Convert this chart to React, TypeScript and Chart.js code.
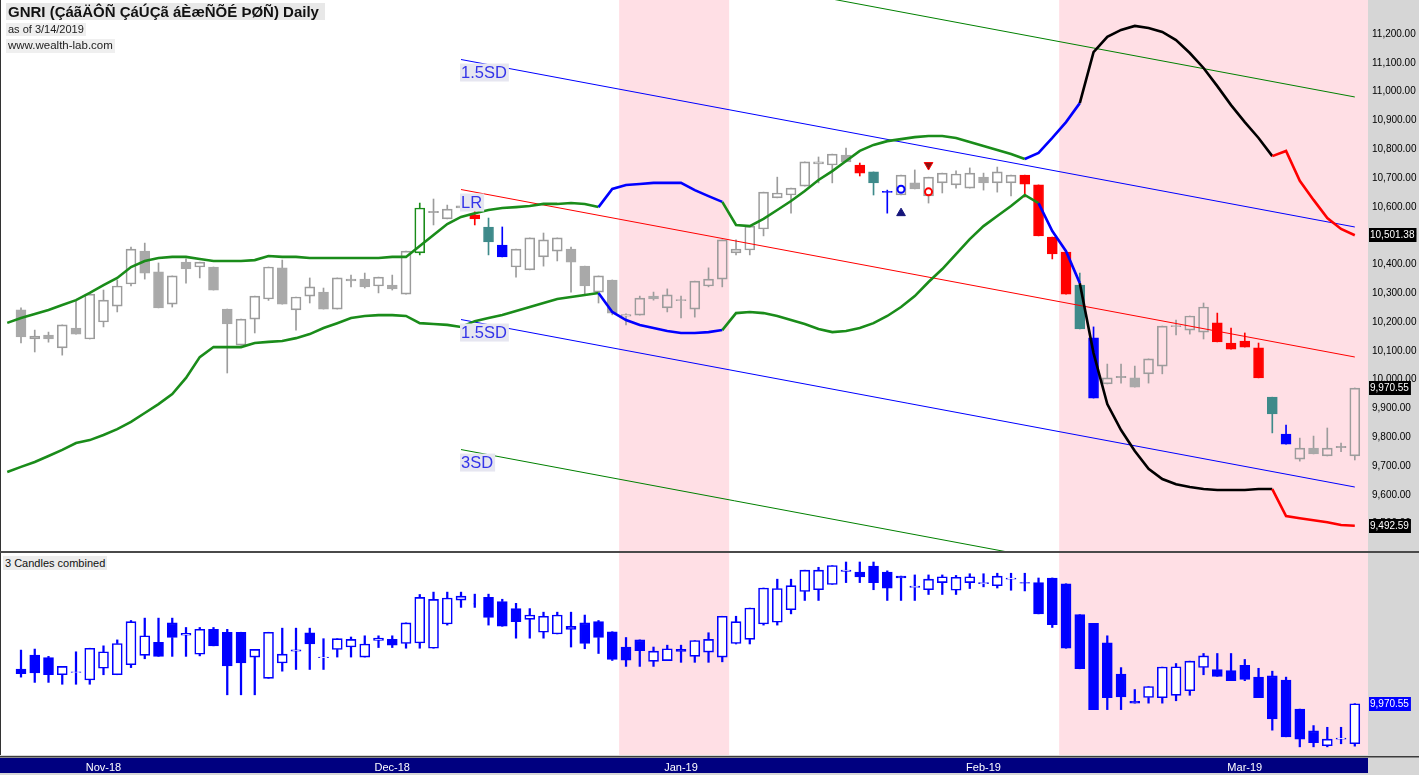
import React, { useEffect, useRef } from 'react';
import { Chart, registerables } from 'chart.js';

Chart.register(...registerables);

// ---------------- DATA ----------------
const chartTitle = 'GNRI (ÇáãÄÔÑ ÇáÚÇã áÈæÑÕÉ ÞØÑ) Daily';
const asOfText = 'as of 3/14/2019';
const siteText = 'www.wealth-lab.com';
const lowerPaneTitle = '3 Candles combined';

// daily OHLC, one entry per bar (bar 0 .. 97)
const opens = [10242, 10141, 10155, 10110, 10179, 10141, 10200, 10255, 10332, 10446,
  10374, 10262, 10408, 10391, 10391, 10245, 10120, 10210, 10280, 10388,
  10242, 10290, 10304, 10245, 10343, 10349, 10325, 10328, 10297, 10440,
  10580, 10558, 10596, 10572, 10530, 10467, 10391, 10381, 10426, 10446,
  10453, 10394, 10304, 10346, 10220, 10224, 10290, 10249, 10274, 10245,
  10325, 10349, 10440, 10450, 10523, 10631, 10641, 10672, 10749, 10745,
  10780, 10745, 10721, 10654, 10641, 10683, 10638, 10683, 10676, 10665,
  10703, 10683, 10683, 10710, 10676, 10495, 10443, 10328, 10145, 9985,
  10007, 10006, 10020, 10047, 10184, 10172, 10165, 10197, 10127, 10134,
  10110, 9939, 9811, 9724, 9762, 9735, 9764, 9735];
const highs = [10249, 10172, 10165, 10190, 10276, 10297, 10311, 10346, 10460, 10474,
  10405, 10360, 10419, 10408, 10391, 10245, 10210, 10290, 10391, 10415,
  10287, 10353, 10318, 10353, 10363, 10370, 10356, 10363, 10446, 10613,
  10627, 10606, 10615, 10585, 10561, 10530, 10453, 10492, 10509, 10492,
  10460, 10394, 10360, 10346, 10228, 10290, 10304, 10315, 10290, 10342,
  10388, 10485, 10485, 10533, 10651, 10703, 10665, 10756, 10773, 10783,
  10804, 10752, 10721, 10658, 10710, 10728, 10703, 10717, 10725, 10735,
  10717, 10738, 10710, 10710, 10676, 10495, 10443, 10370, 10183, 10054,
  10054, 10047, 10072, 10186, 10207, 10221, 10266, 10231, 10179, 10162,
  10127, 9939, 9842, 9797, 9804, 9832, 9780, 9971];
const lows = [10127, 10096, 10130, 10085, 10158, 10141, 10183, 10235, 10325, 10349,
  10249, 10252, 10335, 10353, 10311, 10023, 10120, 10162, 10275, 10262,
  10172, 10266, 10245, 10245, 10322, 10318, 10301, 10311, 10297, 10433,
  10537, 10558, 10590, 10537, 10433, 10426, 10356, 10381, 10394, 10412,
  10304, 10294, 10266, 10225, 10190, 10224, 10276, 10235, 10214, 10217,
  10322, 10322, 10433, 10433, 10499, 10631, 10578, 10672, 10683, 10683,
  10756, 10707, 10641, 10578, 10641, 10662, 10613, 10648, 10665, 10665,
  10658, 10651, 10638, 10634, 10499, 10419, 10297, 10176, 9936, 9985,
  9988, 9974, 9988, 10020, 10155, 10158, 10141, 10131, 10106, 10113,
  10006, 9815, 9776, 9717, 9742, 9735, 9750, 9721];
const closes = [10148, 10151, 10141, 10190, 10158, 10297, 10276, 10325, 10453, 10370,
  10249, 10360, 10384, 10408, 10311, 10193, 10210, 10290, 10391, 10262,
  10287, 10322, 10245, 10353, 10349, 10322, 10356, 10315, 10446, 10596,
  10584, 10592, 10603, 10558, 10478, 10426, 10453, 10492, 10485, 10492,
  10408, 10325, 10360, 10231, 10226, 10283, 10280, 10294, 10278, 10342,
  10349, 10485, 10453, 10533, 10651, 10648, 10665, 10756, 10756, 10783,
  10756, 10717, 10683, 10650, 10710, 10662, 10703, 10717, 10714, 10717,
  10683, 10721, 10710, 10679, 10499, 10436, 10297, 10176, 9936, 10006,
  10011, 9974, 10072, 10186, 10188, 10221, 10252, 10131, 10106, 10113,
  10006, 9881, 9776, 9762, 9742, 9762, 9768, 9970.55];

// "3 Candles combined" pane, one entry per bar
const combOpens = [10175, 10257, 10242, 10141, 10155, 10110, 10179, 10141, 10200, 10255,
  10332, 10446, 10374, 10262, 10408, 10391, 10391, 10245, 10120, 10210,
  10280, 10388, 10242, 10290, 10304, 10245, 10343, 10349, 10325, 10328,
  10297, 10440, 10580, 10558, 10596, 10572, 10530, 10467, 10391, 10381,
  10426, 10446, 10453, 10394, 10304, 10346, 10220, 10224, 10290, 10249,
  10274, 10245, 10325, 10349, 10440, 10450, 10523, 10631, 10641, 10672,
  10749, 10745, 10780, 10745, 10721, 10654, 10641, 10683, 10638, 10683,
  10676, 10665, 10703, 10683, 10683, 10710, 10676, 10495, 10443, 10328,
  10145, 9985, 10007, 10006, 10020, 10047, 10184, 10172, 10165, 10197,
  10127, 10134, 10110, 9939, 9811, 9724, 9762, 9735];
const combHighs = [10286, 10292, 10249, 10190, 10276, 10297, 10311, 10346, 10460, 10474,
  10474, 10474, 10419, 10419, 10419, 10408, 10391, 10290, 10391, 10415,
  10415, 10415, 10353, 10353, 10363, 10370, 10370, 10370, 10446, 10613,
  10627, 10627, 10627, 10615, 10615, 10585, 10561, 10530, 10509, 10509,
  10509, 10492, 10460, 10394, 10360, 10346, 10304, 10315, 10315, 10342,
  10388, 10485, 10485, 10533, 10651, 10703, 10703, 10756, 10773, 10783,
  10804, 10804, 10804, 10752, 10721, 10728, 10728, 10728, 10725, 10735,
  10735, 10738, 10738, 10738, 10710, 10710, 10676, 10495, 10443, 10370,
  10183, 10054, 10072, 10186, 10207, 10221, 10266, 10266, 10266, 10231,
  10179, 10162, 10127, 9939, 9842, 9832, 9832, 9971];
const combLows = [10127, 10096, 10096, 10085, 10085, 10085, 10141, 10141, 10183, 10235,
  10249, 10249, 10249, 10252, 10311, 10023, 10023, 10023, 10120, 10162,
  10172, 10172, 10172, 10245, 10245, 10245, 10301, 10301, 10297, 10297,
  10297, 10433, 10537, 10537, 10433, 10426, 10356, 10356, 10356, 10381,
  10304, 10294, 10266, 10225, 10190, 10190, 10190, 10224, 10214, 10214,
  10214, 10217, 10322, 10322, 10433, 10433, 10499, 10578, 10578, 10672,
  10683, 10683, 10641, 10578, 10578, 10578, 10613, 10613, 10613, 10648,
  10658, 10651, 10638, 10634, 10499, 10419, 10297, 10176, 9936, 9936,
  9936, 9974, 9974, 9974, 9988, 10020, 10141, 10131, 10106, 10106,
  10006, 9815, 9776, 9717, 9717, 9717, 9735, 9721];
const combCloses = [10148, 10151, 10141, 10190, 10158, 10297, 10276, 10325, 10453, 10370,
  10249, 10360, 10384, 10408, 10311, 10193, 10210, 10290, 10391, 10262,
  10287, 10322, 10245, 10353, 10349, 10322, 10356, 10315, 10446, 10596,
  10584, 10592, 10603, 10558, 10478, 10426, 10453, 10492, 10485, 10492,
  10408, 10325, 10360, 10231, 10226, 10283, 10280, 10294, 10278, 10342,
  10349, 10485, 10453, 10533, 10651, 10648, 10665, 10756, 10756, 10783,
  10756, 10717, 10683, 10650, 10710, 10662, 10703, 10717, 10714, 10717,
  10683, 10721, 10710, 10679, 10499, 10436, 10297, 10176, 9936, 10006,
  10011, 9974, 10072, 10186, 10188, 10221, 10252, 10131, 10106, 10113,
  10006, 9881, 9776, 9762, 9742, 9762, 9768, 9970.55];

// envelope bands, first value belongs to bar -1
const bandFirstBar = -1;
const bandUpper = [10197, 10214, 10228, 10242, 10259, 10276, 10301, 10328, 10353, 10391,
  10412, 10422, 10426, 10426, 10419, 10412, 10412, 10412, 10415, 10429,
  10426, 10426, 10422, 10422, 10422, 10422, 10422, 10422, 10426, 10426,
  10464, 10502, 10540, 10565, 10578, 10589, 10596, 10599, 10603, 10610,
  10610, 10613, 10610, 10599, 10662, 10676, 10679, 10683, 10683, 10683,
  10658, 10637, 10617, 10537, 10533, 10558, 10589, 10620, 10655, 10693,
  10724, 10759, 10794, 10815, 10828, 10835, 10842, 10846, 10846, 10839,
  10825, 10811, 10797, 10783, 10766, 10787, 10839, 10894, 10960, 11137,
  11190, 11214, 11228, 11221, 11207, 11179, 11134, 11082, 11019, 10953,
  10894, 10839, 10776, 10794, 10690, 10624, 10561, 10523, 10501.38];
const bandLower = [9679, 9697, 9714, 9735, 9756, 9780, 9790, 9808, 9828, 9853,
  9884, 9915, 9950, 10006, 10078, 10113, 10113, 10113, 10127, 10131,
  10134, 10144, 10158, 10179, 10196, 10214, 10221, 10224, 10224, 10221,
  10196, 10193, 10190, 10183, 10203, 10214, 10224, 10238, 10252, 10266,
  10280, 10287, 10294, 10301, 10235, 10207, 10190, 10179, 10169, 10162,
  10162, 10165, 10172, 10231, 10235, 10231, 10221, 10207, 10193, 10176,
  10165, 10169, 10179, 10196, 10221, 10252, 10290, 10339, 10384, 10436,
  10488, 10533, 10568, 10603, 10641, 10613, 10516, 10446, 10335, 10092,
  9915, 9825, 9752, 9690, 9655, 9637, 9627, 9620, 9617, 9617,
  9617, 9620, 9620, 9526, 9519, 9512, 9505, 9495, 9492.59];

// linear regression channel (bar 32 .. bar 97)
const channelStartBar = 32;
const channelEndBar = 97;
const channelNames = ['3SD', '1.5SD', 'LR', '1.5SD', '3SD'];
const channelStartValues = [11562.8, 11111.4, 10660.0, 10208.6, 9757.2];
const channelEndValues = [10981.3, 10529.9, 10078.5, 9627.1, 9175.7];

// signal markers
const buyArrowBars = [64];
const buyArrowValues = [10578];
const sellArrowBars = [66];
const sellArrowValues = [10745];
const blueRingBars = [64];
const blueRingValues = [10661];
const redRingBars = [66];
const redRingValues = [10652];

// highlighted bars
const redBars = [33, 61, 73, 74, 75, 76, 87, 88, 89, 90];
const tealBars = [34, 62, 77, 91];
const blueBars = [35, 63, 78, 92];
const greenBars = [29];

// shaded bar ranges (the second one runs to the right edge)
const shadedRanges = [[44, 51], [76, 98]];

// axis
const priceTicks = [9500, 9600, 9700, 9800, 9900, 10000, 10100, 10200, 10300, 10400,
  10500, 10600, 10700, 10800, 10900, 11000, 11100, 11200];
const monthLabels = ['Nov-18', 'Dec-18', 'Jan-19', 'Feb-19', 'Mar-19'];
const monthTickBars = [6, 27, 48, 70, 89];
const upperMarkedValues = [10501.38, 9492.59, 9970.55];
const lowerMarkedValue = 9970.55;

// ---------------- STYLE / LAYOUT ----------------
const W = 1419;
const UPPER_H = 551;
const LOWER_TOP = 553;
const LOWER_PLOT_H = 202;
const AXIS_STRIP_H = 20;
const RIGHT_AXIS_W = 51;
const X_MIN = -1.527;
const X_MAX = 97.96;
const UPPER_MIN = 9405;
const UPPER_MAX = 11318;
const LOWER_MIN = 9669;
const LOWER_MAX = 10857;

const PINK = '#ffdfe5';
const AXIS_GRAY = '#d6d6d6';
const GRAY_LINE = '#9c9c9c';
const GRAY_FILL = '#a9a9a9';
const RED = '#ff0000';
const TEAL = '#3e8a8a';
const BLUE = '#0000ff';
const GREEN = '#1a8c1a';
const NAVY = '#000080';

const upperSegments: [number, number, string][] = [
  [-1, 42, GREEN], [42, 51, BLUE], [51, 73, GREEN], [73, 77, BLUE], [77, 91, '#000000'], [91, 98, RED]];
const lowerSegments: [number, number, string][] = [
  [-1, 42, GREEN], [42, 51, BLUE], [51, 74, GREEN], [74, 77, BLUE], [77, 91, '#000000'], [91, 98, RED]];
const channelColors = ['#008000', BLUE, RED, BLUE, '#008000'];
const channelLabelled = [false, true, true, true, true];

const AXIS_FONT_FAMILY = "'Liberation Sans', Arial, sans-serif";
const AXIS_FONT_SIZE = 10;

const fmt = (v: number) =>
  Number(v).toLocaleString('en-US', { minimumFractionDigits: 2, maximumFractionDigits: 2 });

function segColor(segs: [number, number, string][], x: number) {
  for (const [s, e, c] of segs) if (x >= s && x < e) return c;
  return GREEN;
}

function upperBodyStyle(i: number) {
  const up = closes[i] >= opens[i];
  if (redBars.includes(i)) return { fill: RED, border: RED, wick: RED };
  if (tealBars.includes(i)) return { fill: TEAL, border: TEAL, wick: TEAL };
  if (blueBars.includes(i)) return { fill: BLUE, border: BLUE, wick: BLUE };
  if (greenBars.includes(i)) return { fill: 'rgba(0,0,0,0)', border: GREEN, wick: GREEN };
  return up ? { fill: 'rgba(0,0,0,0)', border: GRAY_LINE, wick: GRAY_LINE } : { fill: GRAY_FILL, border: GRAY_FILL, wick: GRAY_LINE };
}

function shade(chart: any) {
  const { ctx, chartArea: a, scales } = chart;
  const x = scales.x;
  ctx.save();
  ctx.fillStyle = AXIS_GRAY;
  ctx.fillRect(0, 0, chart.width, chart.height);
  ctx.fillStyle = '#ffffff';
  ctx.fillRect(a.left, a.top, a.right - a.left, a.bottom - a.top);
  ctx.fillStyle = PINK;
  shadedRanges.forEach(([s, e]) => {
    const x0 = Math.max(a.left, x.getPixelForValue(s - 0.5));
    const x1 = Math.min(a.right, x.getPixelForValue(e + 0.5));
    ctx.fillRect(x0, a.top, x1 - x0, a.bottom - a.top);
  });
  ctx.restore();
}

function markBox(chart: any, value: number, bg: string, font: string) {
  const { ctx, chartArea: a, scales } = chart;
  const y = scales.y.getPixelForValue(value);
  ctx.save();
  ctx.font = font;
  const txt = fmt(value);
  const w = ctx.measureText(txt).width + 3;
  ctx.fillStyle = bg;
  ctx.fillRect(a.right + 1, Math.round(y - 7), w, 14);
  ctx.fillStyle = '#ffffff';
  ctx.textBaseline = 'middle';
  ctx.textAlign = 'left';
  ctx.fillText(txt, a.right + 2, Math.round(y) + 0.5);
  ctx.restore();
}

export default function App() {
  const upperRef = useRef<HTMLCanvasElement>(null);
  const lowerRef = useRef<HTMLCanvasElement>(null);

  useEffect(() => {
    const axisFontStr = `${AXIS_FONT_SIZE}px ${AXIS_FONT_FAMILY}`;
    const bodyStyles = opens.map((_, i) => upperBodyStyle(i));

    const upperPlugin = {
      id: 'upperDeco',
      beforeDraw(chart: any) { shade(chart); },
      afterDraw(chart: any) {
        const { ctx, chartArea: a, scales } = chart;
        ctx.save();
        ctx.font = "16.5px 'Liberation Sans', Arial, sans-serif";
        ctx.textBaseline = 'middle';
        channelNames.forEach((name, k) => {
          if (!channelLabelled[k]) return;
          const px = scales.x.getPixelForValue(channelStartBar);
          const py = scales.y.getPixelForValue(channelStartValues[k]) + 13;
          if (py < a.top + 8 || py > a.bottom - 8) return;
          const w = ctx.measureText(name).width;
          ctx.fillStyle = '#e6e6f0';
          ctx.fillRect(px - 1, py - 9, w + 3, 18);
          ctx.fillStyle = '#3434e8';
          ctx.fillText(name, px, py + 0.5);
        });
        ctx.fillStyle = '#333333';
        ctx.fillRect(0, 0, 1, chart.height);
        ctx.restore();
        upperMarkedValues.forEach(v => markBox(chart, v, '#000000', axisFontStr));
      },
    };

    const upper = new Chart(upperRef.current as HTMLCanvasElement, {
      type: 'bar',
      data: {
        datasets: [
          {
            type: 'line', order: 0, data: buyArrowBars.map((b, k) => ({ x: b, y: buyArrowValues[k] })),
            showLine: false, pointStyle: 'triangle', pointRadius: 5, backgroundColor: '#14147a', borderColor: '#14147a', borderWidth: 1,
          } as any,
          {
            type: 'line', order: 0, data: sellArrowBars.map((b, k) => ({ x: b, y: sellArrowValues[k] })),
            showLine: false, pointStyle: 'triangle', rotation: 180, pointRadius: 5, backgroundColor: '#8a1010', borderColor: RED, borderWidth: 1,
          } as any,
          {
            type: 'line', order: 0, data: blueRingBars.map((b, k) => ({ x: b, y: blueRingValues[k] })),
            showLine: false, pointStyle: 'circle', pointRadius: 3.5, backgroundColor: 'rgba(0,0,0,0)', borderColor: BLUE, borderWidth: 2,
          } as any,
          {
            type: 'line', order: 0, data: redRingBars.map((b, k) => ({ x: b, y: redRingValues[k] })),
            showLine: false, pointStyle: 'circle', pointRadius: 3.5, backgroundColor: 'rgba(0,0,0,0)', borderColor: RED, borderWidth: 2,
          } as any,
          {
            type: 'line', order: 1, data: bandUpper.map((v, k) => ({ x: k + bandFirstBar, y: v })),
            borderColor: GREEN, borderWidth: 2.6, pointRadius: 0, tension: 0, fill: false,
            segment: { borderColor: (c: any) => segColor(upperSegments, c.p0.parsed.x) },
          } as any,
          {
            type: 'line', order: 1, data: bandLower.map((v, k) => ({ x: k + bandFirstBar, y: v })),
            borderColor: GREEN, borderWidth: 2.6, pointRadius: 0, tension: 0, fill: false,
            segment: { borderColor: (c: any) => segColor(lowerSegments, c.p0.parsed.x) },
          } as any,
          ...channelNames.map((_, k) => ({
            type: 'line', order: 2,
            data: [{ x: channelStartBar, y: channelStartValues[k] }, { x: channelEndBar, y: channelEndValues[k] }],
            borderColor: channelColors[k], borderWidth: 1, pointRadius: 0, fill: false,
          } as any)),
          {
            type: 'bar', order: 3, grouped: false, barThickness: 10, borderWidth: 1, borderSkipped: false,
            data: opens.map((o, i) => ({ x: i, y: [o, closes[i]] })),
            backgroundColor: bodyStyles.map(s => s.fill), borderColor: bodyStyles.map(s => s.border),
          } as any,
          {
            type: 'bar', order: 4, grouped: false, barThickness: 1, borderWidth: 0,
            data: highs.map((h, i) => ({ x: i, y: [Math.max(opens[i], closes[i]), h] })),
            backgroundColor: bodyStyles.map(s => s.wick),
          } as any,
          {
            type: 'bar', order: 4, grouped: false, barThickness: 1, borderWidth: 0,
            data: lows.map((l, i) => ({ x: i, y: [l, Math.min(opens[i], closes[i])] })),
            backgroundColor: bodyStyles.map(s => s.wick),
          } as any,
        ],
      },
      options: {
        responsive: false,
        animation: false,
        events: [],
        layout: { padding: 0, autoPadding: false },
        plugins: { legend: { display: false }, tooltip: { enabled: false } },
        scales: {
          x: { type: 'linear', min: X_MIN, max: X_MAX, offset: false, display: false },
          y: {
            type: 'linear', position: 'right', min: UPPER_MIN, max: UPPER_MAX,
            grid: { display: false, drawTicks: false }, border: { display: false },
            ticks: { color: '#000', padding: 4, font: { family: AXIS_FONT_FAMILY, size: AXIS_FONT_SIZE }, autoSkip: false, callback: (v: any) => fmt(v) },
            afterBuildTicks: (s: any) => { s.ticks = priceTicks.map(v => ({ value: v })); },
            afterFit: (s: any) => { s.width = RIGHT_AXIS_W; s.paddingTop = 0; s.paddingBottom = 0; },
          },
        },
      } as any,
      plugins: [upperPlugin],
    });

    const lowerPlugin = {
      id: 'lowerDeco',
      beforeDraw(chart: any) {
        shade(chart);
        const { ctx, chartArea: a } = chart;
        ctx.save();
        ctx.fillStyle = NAVY;
        ctx.fillRect(0, a.bottom + 3, a.right, AXIS_STRIP_H - 5);
        ctx.fillStyle = '#3c3c3c';
        ctx.fillRect(0, a.bottom + 1, chart.width, 1.5);
        ctx.restore();
      },
      afterDraw(chart: any) {
        const { ctx, chartArea: a } = chart;
        ctx.save();
        ctx.fillStyle = '#333333';
        ctx.fillRect(0, 0, 1, a.bottom);
        ctx.restore();
        markBox(chart, lowerMarkedValue, BLUE, axisFontStr);
      },
    };

    const lower = new Chart(lowerRef.current as HTMLCanvasElement, {
      type: 'bar',
      data: {
        datasets: [
          {
            type: 'bar', order: 1, grouped: false, barThickness: 10, borderWidth: 1.6, borderSkipped: false,
            data: combOpens.map((o, i) => ({ x: i, y: [o, combCloses[i]] })),
            backgroundColor: combOpens.map((o, i) => (combCloses[i] >= o ? '#ffffff' : BLUE)),
            borderColor: BLUE,
          } as any,
          {
            type: 'bar', order: 2, grouped: false, barThickness: 1.6, borderWidth: 0,
            data: combHighs.map((h, i) => ({ x: i, y: [Math.max(combOpens[i], combCloses[i]), h] })),
            backgroundColor: BLUE,
          } as any,
          {
            type: 'bar', order: 2, grouped: false, barThickness: 1.6, borderWidth: 0,
            data: combLows.map((l, i) => ({ x: i, y: [l, Math.min(combOpens[i], combCloses[i])] })),
            backgroundColor: BLUE,
          } as any,
        ],
      },
      options: {
        responsive: false,
        animation: false,
        events: [],
        layout: { padding: 0, autoPadding: false },
        plugins: { legend: { display: false }, tooltip: { enabled: false } },
        scales: {
          x: {
            type: 'linear', min: X_MIN, max: X_MAX, offset: false, position: 'bottom',
            grid: { display: false, drawTicks: false }, border: { display: false },
            ticks: {
              color: '#ffffff', padding: 6, autoSkip: false, maxRotation: 0,
              font: { family: "'Liberation Sans', Arial, sans-serif", size: 11 },
              callback: (_v: any, idx: number) => monthLabels[idx],
            },
            afterBuildTicks: (s: any) => { s.ticks = monthTickBars.map(v => ({ value: v })); },
            afterFit: (s: any) => { s.height = AXIS_STRIP_H; s.paddingLeft = 0; s.paddingRight = 0; },
          },
          y: {
            type: 'linear', position: 'right', min: LOWER_MIN, max: LOWER_MAX,
            grid: { display: false, drawTicks: false }, border: { display: false },
            ticks: { display: false },
            afterFit: (s: any) => { s.width = RIGHT_AXIS_W; s.paddingTop = 0; s.paddingBottom = 0; },
          },
        },
      } as any,
      plugins: [lowerPlugin],
    });

    return () => { upper.destroy(); lower.destroy(); };
  }, []);

  const labelFont = "'Liberation Sans', Arial, sans-serif";
  return (
    <div style={{ position: 'fixed', left: 0, top: 0, width: W, height: 775, background: AXIS_GRAY, overflow: 'hidden' }}>
      <canvas ref={upperRef} width={W} height={UPPER_H} style={{ position: 'absolute', left: 0, top: 0, display: 'block' }} />
      <div style={{ position: 'absolute', left: 0, top: UPPER_H, width: W, height: LOWER_TOP - UPPER_H, background: '#4a4a4a' }} />
      <canvas ref={lowerRef} width={W} height={LOWER_PLOT_H + AXIS_STRIP_H} style={{ position: 'absolute', left: 0, top: LOWER_TOP, display: 'block' }} />
      <div style={{ position: 'absolute', left: 6, top: 3, fontFamily: labelFont, lineHeight: 1 }}>
        <div style={{ background: '#e8e8e8', fontWeight: 'bold', fontSize: 15, padding: '1px 6px 1px 2px', display: 'inline-block', color: '#111' }}>{chartTitle}</div>
        <div />
        <div style={{ background: '#efefef', fontSize: 11, padding: '1px 2px', display: 'inline-block', color: '#222', marginTop: 1 }}>{asOfText}</div>
        <div />
        <div style={{ background: '#efefef', fontSize: 11.5, padding: '1px 2px', display: 'inline-block', color: '#222' }}>{siteText}</div>
      </div>
      <div style={{ position: 'absolute', left: 3, top: LOWER_TOP + 3, fontFamily: labelFont, fontSize: 11, background: '#ececec', padding: '1px 2px', color: '#111', lineHeight: 1.1 }}>
        {lowerPaneTitle}
      </div>
    </div>
  );
}
